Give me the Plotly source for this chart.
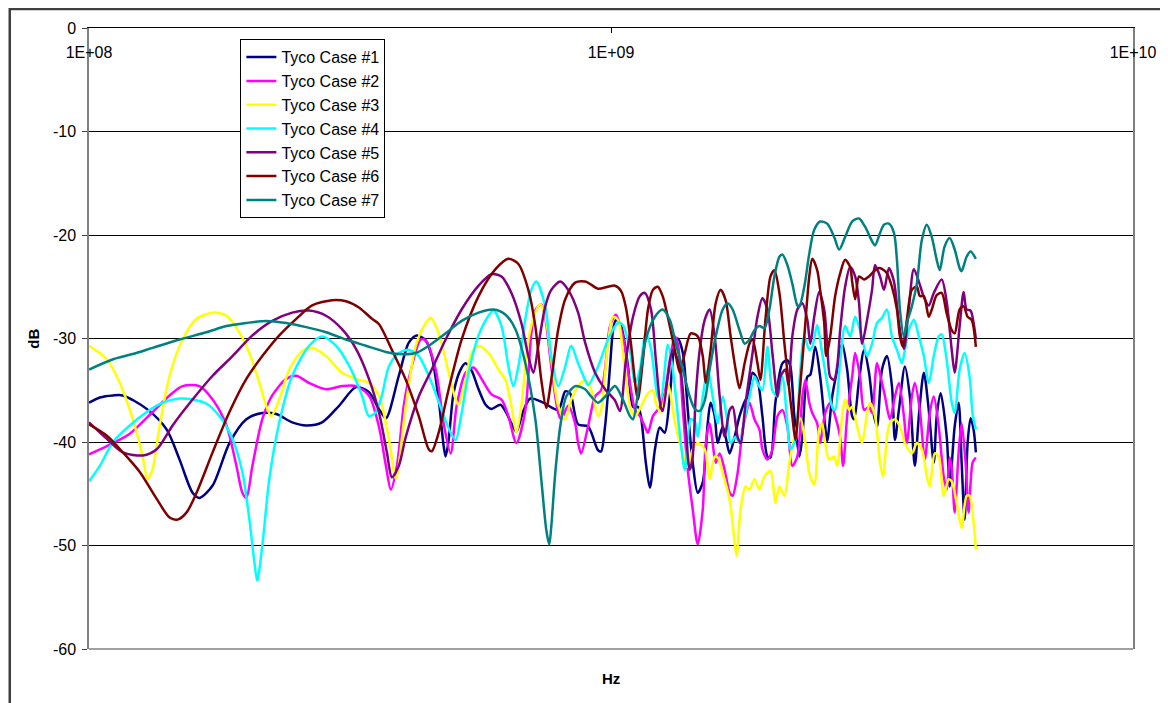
import plotly.graph_objects as go

# ---------------- data (frequency in MHz, level in dB) ----------------
series_names = ["Tyco Case #1", "Tyco Case #2", "Tyco Case #3", "Tyco Case #4",
                "Tyco Case #5", "Tyco Case #6", "Tyco Case #7"]
series_colors = ["#000080", "#FF00FF", "#FFFF00", "#00FFFF", "#800080", "#800000", "#008080"]

case1_freq_mhz = [
    100, 104.9, 111.2, 116.1, 129.0, 140.9, 149.1, 157.9, 162.8, 172.5,
    185.8, 200.2, 214.8, 228.4, 245.1, 260.6, 279.6, 301.3, 324.7, 343.8,
    359.2, 370.5, 392.2, 409.9, 424.6, 441.7, 453.5, 467.6, 478.0, 482.2,
    488.7, 499.6, 515.1, 526.6, 540.7, 557.6, 575.1, 590.3, 614.2, 630.6,
    644.5, 658.8, 679.4, 700.6, 741.8, 792.4, 817.2, 835.1, 865.0, 903.9,
    944.5, 957.1, 974.1, 995.7, 1009, 1022, 1045, 1078, 1102, 1126,
    1141, 1166, 1187, 1214, 1240, 1267, 1296, 1325, 1343, 1373,
    1403, 1434, 1466, 1499, 1532, 1552, 1580, 1601, 1637, 1658,
    1688, 1725, 1763, 1803, 1826, 1867, 1908, 1950, 1994, 2021,
    2065, 2130, 2177, 2206, 2245, 2295, 2326, 2377, 2409, 2462,
    2516, 2572, 2595, 2653, 2712, 2772, 2834, 2897, 2923, 2987,
    3054, 3121, 3191, 3233, 3305, 3378, 3453, 3499, 3561, 3656,
    3737, 3820, 3888, 3975, 4062, 4153, 4207, 4281, 4397, 4455,
    4554, 4634, 4696, 4758, 4821, 4885, 4950, 5000]
case1_db = [
    -36.2, -35.7, -35.5, -35.5, -36.8, -38.8, -41.7, -44.9, -45.4, -44.2,
    -40.1, -37.8, -37.2, -37.3, -38.1, -38.4, -38.1, -36.5, -34.7, -35.2,
    -36.8, -37.7, -33.6, -30.4, -29.7, -30.2, -31.7, -35.9, -40.4, -41.4,
    -39.8, -35.2, -33.0, -32.4, -33.1, -34.9, -36.4, -36.8, -36.4, -37.2,
    -38.2, -39.0, -37.0, -35.8, -36.2, -36.9, -35.1, -35.3, -38.3, -38.5,
    -40.8, -40.9, -38.5, -32.7, -29.2, -28.2, -28.8, -32.7, -36.6, -36.6,
    -37.5, -42.0, -44.4, -40.7, -38.6, -39.1, -35.6, -30.5, -30.0, -31.4,
    -36.9, -42.0, -44.9, -43.9, -38.2, -36.2, -37.5, -40.1, -38.5, -39.5,
    -41.1, -39.5, -37.5, -36.1, -35.6, -33.3, -34.0, -37.5, -41.4, -41.5,
    -36.2, -32.4, -32.1, -32.7, -37.5, -41.4, -39.5, -33.7, -33.5, -30.8,
    -33.7, -38.5, -39.9, -35.6, -33.0, -30.5, -33.0, -37.5, -37.8, -34.0,
    -31.1, -33.3, -37.5, -38.5, -33.0, -31.7, -34.6, -39.8, -36.9, -32.7,
    -35.6, -42.3, -37.5, -33.3, -36.9, -42.0, -37.5, -35.3, -39.5, -44.3,
    -38.5, -36.2, -42.0, -47.5, -40.1, -37.7, -38.8, -41.0]

case2_freq_mhz = [
    100, 108.2, 119.7, 132.4, 142.7, 151.1, 162.8, 172.5, 183.4, 191.6,
    196.7, 200.2, 205.6, 214.8, 224.4, 238.7, 249.5, 264.1, 284.5, 305.3,
    324.7, 343.8, 359.2, 370.5, 378.7, 388.9, 400.9, 409.9, 432.1, 441.7,
    461.5, 478.0, 493.0, 506.2, 526.6, 545.4, 565.0, 590.3, 616.9, 636.0,
    658.8, 685.4, 703.7, 716.2, 735.3, 748.3, 768.3, 792.4, 802.9, 827.8,
    853.7, 865.0, 876.5, 903.9, 932.2, 957.1, 974.1, 995.7, 1022, 1054,
    1087, 1112, 1136, 1161, 1177, 1203, 1240, 1267, 1296, 1325,
    1343, 1373, 1403, 1434, 1466, 1499, 1519, 1545, 1566, 1587,
    1615, 1651, 1688, 1710, 1748, 1787, 1811, 1842, 1883, 1925,
    1950, 1994, 2038, 2084, 2130, 2177, 2225, 2275, 2326, 2357,
    2398, 2430, 2483, 2516, 2572, 2630, 2688, 2748, 2784, 2834,
    2897, 2936, 3000, 3054, 3121, 3163, 3233, 3305, 3349, 3423,
    3499, 3561, 3640, 3688, 3770, 3820, 3905, 3992, 4080, 4153,
    4244, 4338, 4397, 4455, 4495, 4554, 4634, 4696, 4779, 4842,
    4929, 5000]
case2_db = [
    -41.2, -40.4, -39.2, -37.1, -35.5, -34.6, -34.6, -35.9, -38.4, -42.3,
    -44.9, -45.4, -42.3, -37.8, -35.5, -33.9, -33.6, -34.3, -34.9, -34.6,
    -34.6, -35.5, -38.5, -42.3, -44.6, -42.3, -36.5, -33.9, -30.1, -30.2,
    -33.0, -38.2, -41.1, -36.5, -33.3, -32.8, -33.9, -35.4, -35.9, -37.5,
    -40.1, -36.9, -29.5, -27.3, -26.7, -28.0, -32.7, -37.2, -37.8, -36.5,
    -38.2, -40.1, -41.1, -38.5, -35.6, -35.0, -33.0, -28.8, -27.7, -29.8,
    -34.3, -36.9, -37.5, -38.5, -39.1, -37.5, -36.6, -35.3, -32.1, -29.8,
    -30.5, -36.9, -42.7, -46.5, -49.9, -46.5, -40.1, -38.2, -40.1, -42.0,
    -41.1, -42.7, -44.9, -45.2, -43.0, -38.8, -37.5, -36.2, -37.8, -38.8,
    -40.7, -41.7, -40.7, -37.5, -36.9, -38.5, -42.3, -41.4, -35.6, -34.0,
    -36.2, -37.2, -38.2, -40.1, -37.2, -36.2, -37.5, -39.5, -42.3, -37.5,
    -33.7, -31.4, -33.7, -36.9, -36.6, -37.2, -32.4, -34.3, -35.6, -37.8,
    -35.6, -34.3, -37.5, -40.1, -35.6, -34.3, -36.9, -41.7, -37.2, -35.6,
    -38.5, -43.3, -44.6, -41.5, -42.5, -46.8, -41.0, -38.2, -42.0, -46.8,
    -42.0, -41.5]

case3_freq_mhz = [
    100, 108.2, 114.6, 121.3, 126.2, 129.6, 132.4, 136.6, 142.7, 151.1,
    160.7, 172.5, 183.4, 194.1, 202.9, 212.0, 219.6, 223.4, 231.5, 241.9,
    256.1, 267.6, 284.5, 305.3, 324.7, 343.8, 359.2, 375.4, 387.2, 404.5,
    422.6, 441.7, 451.4, 467.6, 488.7, 504.0, 510.6, 526.6, 540.7, 557.6,
    582.6, 608.8, 627.9, 644.5, 658.8, 673.4, 694.5, 716.2, 732.1, 748.3,
    768.3, 792.4, 817.2, 838.8, 865.0, 892.1, 915.9, 944.5, 957.1, 987.0,
    1009, 1031, 1063, 1092, 1112, 1141, 1177, 1203, 1219, 1245,
    1285, 1325, 1361, 1403, 1434, 1466, 1512, 1545, 1580, 1601,
    1637, 1688, 1725, 1740, 1771, 1811, 1842, 1883, 1925, 1968,
    2021, 2065, 2102, 2149, 2196, 2245, 2305, 2357, 2398, 2451,
    2505, 2538, 2572, 2618, 2676, 2712, 2772, 2809, 2859, 2897,
    2961, 3027, 3094, 3135, 3205, 3276, 3320, 3378, 3423, 3499,
    3577, 3656, 3770, 3854, 3939, 4027, 4080, 4171, 4244, 4338,
    4436, 4495, 4594, 4696, 4800, 4864, 4950, 5000]
case3_db = [
    -30.7, -32.0, -34.3, -37.8, -41.0, -43.6, -42.6, -38.4, -33.6, -30.1,
    -28.1, -27.5, -27.8, -29.4, -31.4, -34.3, -36.8, -37.5, -35.9, -33.0,
    -31.2, -30.9, -31.7, -33.3, -33.9, -34.3, -35.5, -39.7, -43.5, -36.5,
    -30.7, -28.5, -28.0, -29.5, -33.3, -35.9, -36.4, -34.0, -31.4, -30.7,
    -31.4, -33.0, -34.0, -36.5, -39.1, -36.5, -30.1, -27.5, -26.7, -27.8,
    -32.0, -36.5, -37.8, -35.9, -34.6, -34.0, -34.9, -37.5, -36.9, -30.5,
    -27.9, -28.2, -33.0, -36.9, -37.5, -36.6, -35.3, -35.0, -36.2, -37.2,
    -34.5, -38.0, -40.5, -42.4, -40.7, -40.1, -40.7, -43.6, -41.4, -41.5,
    -43.0, -45.6, -49.7, -51.0, -46.5, -44.3, -44.6, -43.6, -44.6, -43.3,
    -42.8, -45.9, -44.3, -45.2, -42.0, -39.5, -37.7, -40.1, -43.0, -44.1,
    -38.8, -38.2, -40.1, -41.7, -41.4, -42.3, -37.5, -35.9, -36.9, -36.6,
    -38.5, -40.1, -37.2, -36.2, -37.5, -42.0, -43.3, -39.5, -38.2, -37.8,
    -38.5, -40.1, -41.1, -40.1, -40.7, -43.3, -44.3, -41.1, -41.4, -45.2,
    -43.6, -43.8, -45.9, -48.3, -45.2, -45.2, -47.8, -50.4]

case4_freq_mhz = [
    100, 104.9, 111.2, 119.7, 129.0, 138.4, 149.1, 157.9, 167.9, 177.8,
    188.3, 196.7, 202.9, 207.4, 210.0, 214.8, 221.5, 231.5, 245.1, 264.1,
    279.6, 297.3, 314.8, 333.3, 343.8, 354.6, 364.0, 375.4, 392.2, 409.9,
    428.3, 453.5, 473.8, 493.0, 504.0, 517.4, 533.6, 557.6, 582.6, 595.5,
    616.9, 636.0, 650.1, 664.6, 685.4, 703.7, 719.4, 748.3, 768.3, 792.4,
    817.2, 838.8, 865.0, 892.1, 903.9, 944.5, 987.0, 1031, 1054, 1087,
    1112, 1136, 1166, 1193, 1229, 1245, 1285, 1313, 1361, 1385,
    1422, 1447, 1466, 1499, 1532, 1566, 1601, 1637, 1673, 1695,
    1733, 1763, 1803, 1842, 1883, 1908, 1950, 1994, 2038, 2084,
    2130, 2177, 2206, 2255, 2305, 2346, 2398, 2430, 2483, 2538,
    2595, 2653, 2688, 2748, 2809, 2872, 2936, 3000, 3054, 3094,
    3163, 3233, 3305, 3378, 3453, 3530, 3608, 3656, 3721, 3803,
    3888, 3975, 4062, 4153, 4244, 4300, 4397, 4495, 4554, 4655,
    4758, 4864, 4929, 5000]
case4_db = [
    -43.8, -42.3, -40.0, -38.4, -37.1, -36.2, -35.8, -35.9, -36.3, -37.5,
    -39.7, -42.9, -47.5, -51.6, -53.4, -50.0, -43.6, -38.1, -33.6, -30.7,
    -29.8, -30.7, -32.6, -35.5, -37.5, -37.1, -35.5, -32.7, -31.4, -31.1,
    -31.7, -34.3, -36.9, -39.1, -39.8, -37.2, -33.3, -29.7, -27.8, -27.3,
    -28.8, -32.7, -34.6, -32.7, -28.1, -25.3, -24.5, -26.9, -31.7, -34.6,
    -32.7, -30.7, -32.4, -34.0, -34.5, -32.7, -30.1, -28.5, -28.7, -31.1,
    -34.3, -33.0, -29.5, -31.0, -35.6, -36.0, -30.6, -33.0, -40.1, -42.7,
    -37.8, -38.0, -39.5, -35.6, -33.0, -35.6, -38.2, -35.6, -38.2, -40.1,
    -39.5, -40.1, -37.8, -35.6, -33.7, -34.3, -35.0, -30.8, -35.0, -35.6,
    -33.7, -38.2, -40.7, -39.8, -33.0, -29.8, -31.1, -30.8, -28.7, -31.4,
    -34.3, -36.6, -36.9, -32.1, -28.8, -29.8, -27.9, -29.2, -30.8, -31.7,
    -30.5, -28.5, -28.0, -27.2, -29.8, -31.1, -32.4, -31.1, -29.2, -28.2,
    -29.8, -31.7, -34.3, -31.7, -29.8, -29.6, -32.1, -36.2, -37.2, -33.0,
    -31.4, -33.7, -37.3, -38.8]

case5_freq_mhz = [
    100, 108.2, 116.1, 126.8, 134.8, 144.6, 157.9, 172.5, 188.3, 205.6,
    224.4, 245.1, 264.1, 284.5, 305.3, 324.7, 343.8, 359.2, 372.1, 380.4,
    392.2, 404.5, 428.3, 453.5, 482.2, 517.4, 557.6, 590.3, 616.9, 644.5,
    673.4, 694.5, 710.0, 725.7, 748.3, 768.3, 799.4, 827.8, 865.0, 892.1,
    932.2, 974.1, 1018, 1040, 1068, 1102, 1136, 1161, 1193, 1219,
    1245, 1256, 1285, 1313, 1355, 1385, 1415, 1434, 1453, 1479,
    1512, 1545, 1580, 1615, 1651, 1688, 1710, 1748, 1771, 1811,
    1867, 1908, 1950, 1994, 2038, 2084, 2111, 2158, 2187, 2225,
    2275, 2326, 2377, 2409, 2451, 2505, 2561, 2595, 2630, 2676,
    2712, 2748, 2809, 2872, 2936, 2987, 3027, 3094, 3163, 3205,
    3276, 3334, 3408, 3484, 3561, 3640, 3721, 3803, 3888, 3975,
    4062, 4153, 4300, 4397, 4495, 4554, 4655, 4737, 4800, 4885,
    4950, 5000]
case5_db = [
    -38.1, -39.7, -41.0, -41.3, -40.7, -38.4, -35.9, -33.6, -31.7, -29.7,
    -28.3, -27.5, -27.3, -27.8, -29.1, -31.0, -33.9, -37.1, -41.0, -43.4,
    -42.3, -39.5, -35.6, -33.0, -30.1, -27.2, -24.9, -23.8, -24.0, -25.6,
    -28.5, -31.7, -33.3, -30.7, -26.9, -25.3, -24.5, -25.3, -27.5, -30.4,
    -33.3, -34.9, -36.0, -37.0, -32.1, -27.9, -25.9, -25.6, -27.2, -32.1,
    -36.6, -37.0, -33.7, -31.1, -32.7, -37.5, -42.7, -41.4, -35.6, -31.1,
    -28.2, -27.2, -29.8, -35.6, -39.5, -36.9, -36.6, -39.5, -40.1, -36.2,
    -31.4, -27.9, -26.1, -27.2, -31.4, -35.6, -33.7, -33.0, -34.5, -29.8,
    -27.2, -26.6, -28.2, -30.5, -27.9, -25.5, -27.2, -30.5, -33.7, -34.0,
    -32.7, -29.2, -25.0, -23.1, -24.0, -26.6, -30.5, -28.2, -25.3, -22.9,
    -24.0, -25.3, -23.2, -24.5, -28.5, -31.0, -27.0, -23.3, -24.5, -26.0,
    -26.8, -25.6, -24.3, -26.5, -31.1, -33.3, -28.8, -25.5, -27.2, -27.3,
    -28.5, -30.0]

case6_freq_mhz = [
    100, 108.2, 116.1, 125.1, 134.8, 142.7, 147.8, 153.8, 160.7, 172.5,
    185.8, 200.2, 214.8, 231.5, 249.5, 267.6, 292.1, 310.7, 328.9, 348.4,
    359.2, 380.4, 404.5, 428.3, 447.5, 453.5, 467.6, 488.7, 517.4, 557.6,
    600.8, 636.0, 664.6, 694.5, 716.2, 735.3, 751.7, 768.3, 792.4, 817.2,
    853.7, 892.1, 915.9, 944.5, 987.0, 1018, 1045, 1068, 1092, 1116,
    1126, 1151, 1177, 1203, 1229, 1256, 1296, 1325, 1355, 1385,
    1422, 1466, 1499, 1519, 1552, 1587, 1622, 1658, 1695, 1733,
    1763, 1803, 1842, 1867, 1908, 1933, 1976, 2021, 2056, 2102,
    2149, 2196, 2225, 2255, 2295, 2346, 2398, 2430, 2483, 2516,
    2561, 2584, 2630, 2688, 2748, 2809, 2872, 2897, 2936, 2987,
    3054, 3121, 3191, 3262, 3334, 3378, 3453, 3530, 3577, 3624,
    3688, 3770, 3854, 3905, 3975, 4062, 4117, 4207, 4300, 4397,
    4495, 4554, 4655, 4737, 4821, 4907, 5000]
case6_db = [
    -38.3, -39.4, -41.0, -42.9, -45.5, -47.3, -47.5, -46.8, -44.9, -41.0,
    -37.1, -33.9, -31.7, -29.7, -28.1, -26.8, -26.3, -26.4, -27.0, -28.1,
    -28.6, -31.1, -34.0, -37.5, -40.7, -40.9, -39.1, -34.9, -30.1, -25.9,
    -23.3, -22.3, -22.8, -25.3, -28.8, -34.0, -36.7, -34.0, -29.1, -26.2,
    -24.6, -24.5, -24.8, -25.2, -25.0, -24.9, -25.4, -27.0, -30.5, -34.9,
    -35.9, -32.1, -27.2, -25.3, -25.0, -25.9, -28.8, -31.1, -33.3, -31.4,
    -29.5, -29.8, -31.7, -34.3, -31.1, -26.6, -25.3, -26.3, -29.8, -33.0,
    -34.8, -32.4, -30.5, -30.1, -32.4, -34.0, -28.2, -24.0, -23.4, -25.6,
    -30.5, -35.0, -37.5, -39.8, -35.6, -29.8, -24.0, -22.3, -23.4, -25.3,
    -28.5, -31.7, -29.8, -25.9, -23.7, -22.4, -23.1, -24.5, -26.2, -24.0,
    -24.3, -24.0, -23.5, -23.2, -23.4, -23.7, -25.0, -27.2, -29.8, -30.8,
    -28.2, -25.3, -25.0, -25.9, -25.9, -27.9, -27.2, -25.8, -25.6, -27.6,
    -29.2, -29.5, -27.2, -26.9, -27.9, -28.2, -30.8]

case7_freq_mhz = [
    100, 111.2, 121.3, 132.4, 149.1, 167.9, 183.4, 200.2, 218.6, 238.7,
    260.6, 284.5, 310.7, 339.2, 370.5, 392.2, 422.6, 447.5, 482.2, 517.4,
    557.6, 595.5, 627.9, 655.9, 685.4, 716.2, 735.3, 751.7, 761.6, 768.3,
    782.0, 799.4, 820.8, 853.7, 892.1, 915.9, 944.5, 987.0, 1018, 1054,
    1087, 1102, 1136, 1166, 1214, 1256, 1296, 1331, 1373, 1415,
    1447, 1479, 1512, 1545, 1587, 1637, 1673, 1710, 1763, 1803,
    1842, 1883, 1925, 1968, 2011, 2056, 2102, 2130, 2177, 2225,
    2275, 2295, 2346, 2398, 2451, 2516, 2595, 2676, 2736, 2809,
    2897, 2987, 3067, 3163, 3205, 3276, 3334, 3408, 3484, 3530,
    3577, 3640, 3688, 3770, 3854, 3939, 4027, 4117, 4207, 4263,
    4357, 4455, 4554, 4655, 4696, 4800, 4885, 5000]
case7_db = [
    -33.0, -32.0, -31.5, -30.9, -30.1, -29.4, -28.8, -28.5, -28.3, -28.5,
    -28.9, -29.4, -30.1, -30.7, -31.3, -31.5, -31.4, -30.7, -29.5, -28.3,
    -27.5, -27.2, -27.7, -29.1, -32.4, -37.8, -43.6, -48.5, -49.9, -48.2,
    -43.0, -38.5, -35.6, -34.6, -34.9, -35.6, -36.2, -35.3, -34.6, -35.9,
    -37.5, -37.8, -33.7, -30.1, -27.9, -27.2, -28.2, -30.5, -33.0, -35.6,
    -36.8, -37.0, -36.0, -33.0, -29.8, -27.2, -26.6, -27.2, -29.2, -30.5,
    -30.1, -29.2, -28.8, -29.0, -27.2, -24.0, -22.1, -21.9, -22.9, -24.7,
    -26.8, -26.9, -25.0, -21.8, -19.5, -18.7, -18.9, -20.2, -21.4, -20.2,
    -18.7, -18.4, -19.2, -20.6, -21.0, -19.8, -19.0, -18.9, -19.8, -22.4,
    -27.2, -29.8, -28.5, -26.9, -24.7, -20.5, -19.0, -20.2, -22.4, -23.4,
    -21.1, -20.3, -21.4, -23.2, -23.5, -22.1, -21.6, -22.3]

x_tick_values_hz = [1e8, 1e9, 1e10]
x_tick_labels = ["1E+08", "1E+09", "1E+10"]
y_tick_values = [0, -10, -20, -30, -40, -50, -60]
y_tick_labels = ["0", "-10", "-20", "-30", "-40", "-50", "-60"]

all_freqs = [case1_freq_mhz, case2_freq_mhz, case3_freq_mhz, case4_freq_mhz,
             case5_freq_mhz, case6_freq_mhz, case7_freq_mhz]
all_dbs = [case1_db, case2_db, case3_db, case4_db, case5_db, case6_db, case7_db]

FONT = "Liberation Sans, Arial, Helvetica, sans-serif"

fig = go.Figure()
for name, color, f_mhz, db in zip(series_names, series_colors, all_freqs, all_dbs):
    fig.add_trace(go.Scatter(
        x=[v * 1e6 for v in f_mhz], y=db, mode="lines", name=name,
        legendgroup=name,
        line=dict(color=color, width=2.5, shape="spline", smoothing=0.8),
    ))

fig.update_layout(
    width=1160, height=695,
    margin=dict(l=81, r=31, t=20, b=54),
    paper_bgcolor="white", plot_bgcolor="white",
    font=dict(family=FONT, size=16, color="black"),
    showlegend=True,
    legend=dict(x=0.145, y=0.982, xanchor="left", yanchor="top",
                bgcolor="white", bordercolor="black", borderwidth=1,
                font=dict(family=FONT, size=16, color="black"),
                tracegroupgap=0),
    xaxis=dict(type="log", range=[8, 10], side="top",
               showgrid=False, zeroline=False,
               showline=True, linecolor="black", linewidth=1,
               ticks="inside", ticklen=5, tickcolor="black",
               tickvals=x_tick_values_hz, ticktext=x_tick_labels,
               ticklabelposition="inside", ticklabeloverflow="allow",
               ticklabelstandoff=14,
               tickfont=dict(family=FONT, size=16, color="black")),
    yaxis=dict(range=[-60, 0], tickvals=y_tick_values, ticktext=y_tick_labels,
               showgrid=True, gridcolor="black", gridwidth=1, zeroline=False,
               showline=True, linecolor="#808080", linewidth=1.5, mirror=True,
               ticks="outside", ticklen=5, tickcolor="#404040",
               ticklabelstandoff=3,
               tickfont=dict(family=FONT, size=16, color="black")),
    shapes=[
        dict(type="line", xref="paper", yref="paper", x0=0, x1=1, y0=0, y1=0,
             line=dict(color="#808080", width=1.5), layer="above"),
        dict(type="rect", xref="paper", yref="paper",
             x0=-0.0759, x1=1.06, y0=-0.12, y1=1.0306,
             line=dict(color="#404040", width=2.5), layer="above"),
    ],
    annotations=[
        dict(text="<b>dB</b>", xref="paper", yref="paper", x=-0.0534, y=0.5,
             xanchor="center", yanchor="middle",
             showarrow=False, textangle=-90, font=dict(family=FONT, size=15, color="black")),
        dict(text="<b>Hz</b>", xref="paper", yref="paper", x=0.5, y=-0.048,
             xanchor="center", yanchor="middle",
             showarrow=False, font=dict(family=FONT, size=15, color="black")),
    ],
)

fig.write_html("out.html")
